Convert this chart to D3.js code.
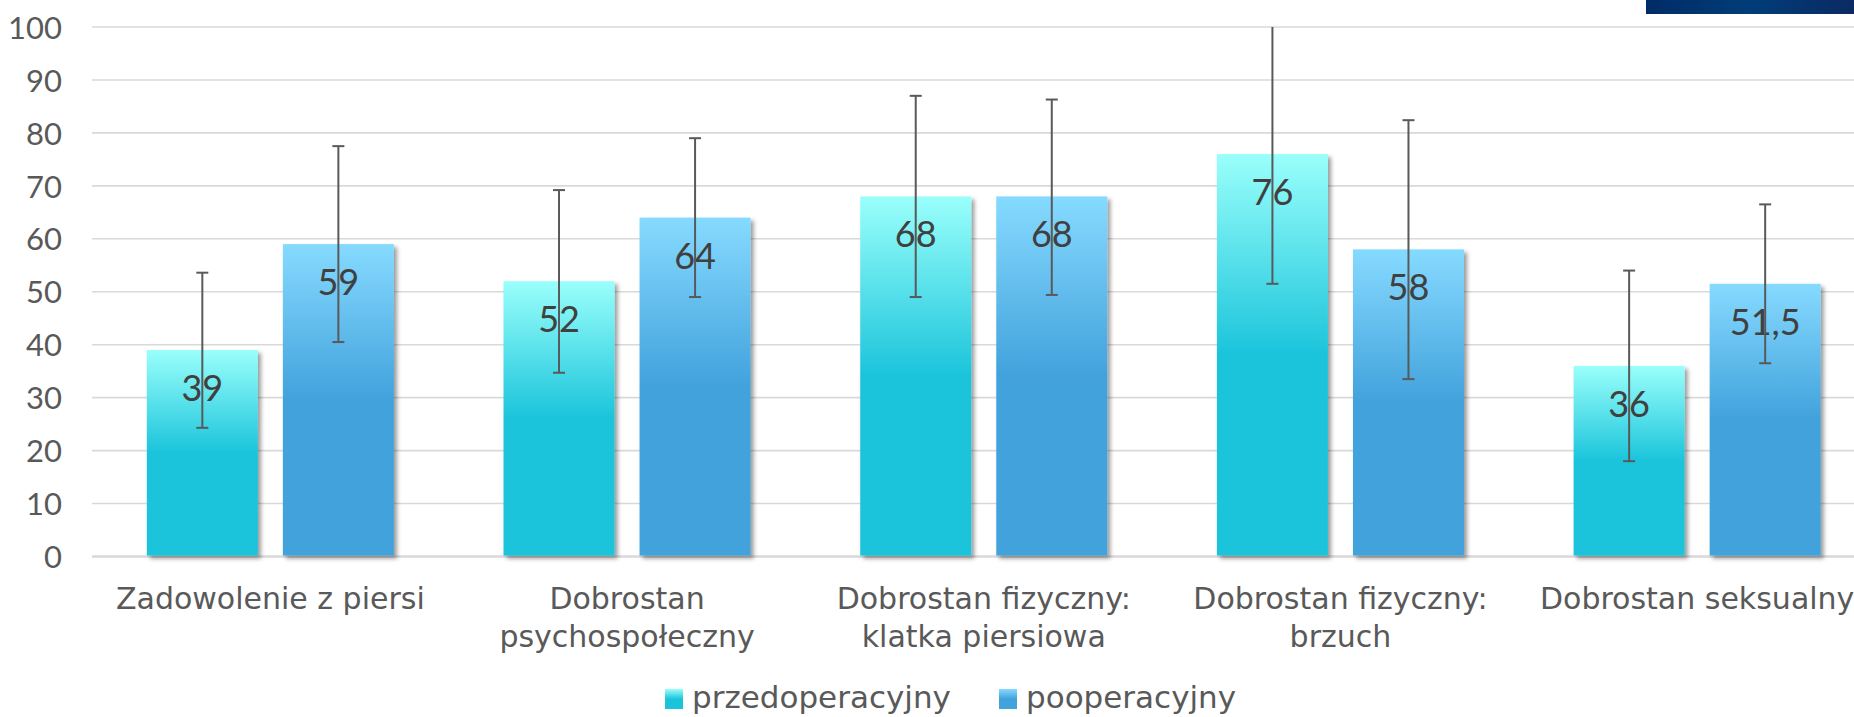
<!DOCTYPE html>
<html>
<head>
<meta charset="utf-8">
<script src="https://cdn.jsdelivr.net/npm/d3@7"></script>
<style>
  html, body { margin: 0; padding: 0; background: #fff; overflow: hidden; }
  svg { display: block; }
  text { font-family: "DejaVu Sans", sans-serif; }
  .num { font-family: "Lato", "DejaVu Sans", sans-serif; }
</style>
</head>
<body>
<svg id="chart" width="1854" height="717"></svg>
<script>
// ---- data ----
const categories = [
  ["Zadowolenie z piersi"],
  ["Dobrostan", "psychospołeczny"],
  ["Dobrostan fizyczny:", "klatka piersiowa"],
  ["Dobrostan fizyczny:", "brzuch"],
  ["Dobrostan seksualny"]
];
const seriesNames = ["przedoperacyjny", "pooperacyjny"];
const preValues  = [39, 52, 68, 76, 36];
const postValues = [59, 64, 68, 58, 51.5];
const preErrLow   = [24.3, 34.7, 49.0, 51.5, 18.0];
const preErrHigh  = [53.6, 69.2, 87.0, 100, 54.0];
const postErrLow  = [40.5, 49.0, 49.4, 33.5, 36.5];
const postErrHigh = [77.5, 79.0, 86.3, 82.4, 66.5];
const yTicks = [0, 10, 20, 30, 40, 50, 60, 70, 80, 90, 100];

// ---- layout ----
const W = 1854, H = 717;
const plotLeft = 92, plotRight = 1875.5, plotTop = 27, plotBottom = 556.5;
const textColor = "#595959";

const svg = d3.select("#chart");
const defs = svg.append("defs");

function grad(id, top, bottom) {
  const g = defs.append("linearGradient").attr("id", id)
    .attr("x1", 0).attr("y1", 0).attr("x2", 0).attr("y2", 1);
  g.append("stop").attr("offset", "0%").attr("stop-color", top);
  g.append("stop").attr("offset", "50%").attr("stop-color", bottom);
  g.append("stop").attr("offset", "100%").attr("stop-color", bottom);
}
grad("g0", "#9afffb", "#1bc4db");
grad("g1", "#86daff", "#42a2dc");

const f = defs.append("filter").attr("id", "shadow")
  .attr("x", "-10%").attr("y", "-10%").attr("width", "130%").attr("height", "130%");
f.append("feDropShadow").attr("dx", 3).attr("dy", 3).attr("stdDeviation", 2.2)
  .attr("flood-color", "#000").attr("flood-opacity", 0.4);

const hg = defs.append("linearGradient").attr("id", "hdr")
  .attr("x1", 0).attr("y1", 0).attr("x2", 1).attr("y2", 0);
hg.append("stop").attr("offset", "0%").attr("stop-color", "#002b66");
hg.append("stop").attr("offset", "50%").attr("stop-color", "#003d78");
hg.append("stop").attr("offset", "100%").attr("stop-color", "#0b2a62");

// scales
const x0 = d3.scaleBand().domain(d3.range(categories.length))
  .range([plotLeft, plotRight]).paddingInner(0).paddingOuter(0);
const x1 = d3.scaleBand().domain([0, 1])
  .range([0, x0.bandwidth()]).paddingInner(0.184).paddingOuter(0.403);
const y = d3.scaleLinear().domain([0, 100]).range([plotBottom, plotTop]);

// header decoration
svg.append("rect").attr("x", 1646).attr("y", 0).attr("width", W - 1646).attr("height", 14)
  .attr("fill", "url(#hdr)");

// gridlines
svg.append("g").selectAll("line").data(yTicks.filter(d => d > 0)).join("line")
  .attr("x1", plotLeft).attr("x2", W)
  .attr("y1", d => y(d)).attr("y2", d => y(d))
  .attr("stroke", "#d9d9d9").attr("stroke-width", 1.6);

// y axis labels
const yAxis = d3.axisLeft(y).tickValues(yTicks).tickSize(0).tickPadding(0);
const yg = svg.append("g").attr("transform", `translate(${plotLeft - 30},0)`).call(yAxis);
yg.select(".domain").remove();
yg.selectAll("text").attr("class", "num").attr("fill", textColor).attr("font-size", 31)
  .attr("dy", "0.36em").attr("x", 0);

// zero axis line
svg.append("line").attr("x1", plotLeft).attr("x2", W)
  .attr("y1", y(0)).attr("y2", y(0))
  .attr("stroke", "#d9d9d9").attr("stroke-width", 2.5);

// bars
const series = [
  {vals: preValues, lo: preErrLow, hi: preErrHigh, fill: "url(#g0)"},
  {vals: postValues, lo: postErrLow, hi: postErrHigh, fill: "url(#g1)"}
];
const locale = d3.formatLocale({decimal: ",", thousands: " ", grouping: [3], currency: ["", ""]});
const fmt = locale.format("~g");

const barData = [];
categories.forEach((c, i) => {
  series.forEach((s, k) => {
    barData.push({i, k, v: s.vals[i], lo: s.lo[i], hi: s.hi[i], fill: s.fill});
  });
});

const bars = svg.append("g");
bars.selectAll("rect").data(barData).join("rect")
  .attr("x", d => x0(d.i) + x1(d.k))
  .attr("y", d => y(d.v))
  .attr("width", x1.bandwidth())
  .attr("height", d => y(0) - y(d.v) - 1)
  .attr("fill", d => d.fill)
  .attr("filter", "url(#shadow)");

// data labels
svg.append("g").selectAll("text").data(barData).join("text")
  .attr("class", "num")
  .attr("x", d => x0(d.i) + x1(d.k) + x1.bandwidth() / 2)
  .attr("y", d => y(d.v) + 51)
  .attr("text-anchor", "middle")
  .attr("font-size", 36)
  .attr("fill", "#404040")
  .text(d => fmt(d.v));

// error bars
const eg = svg.append("g").attr("stroke", "#595959").attr("stroke-width", 2).attr("fill", "none");
barData.forEach(d => {
  const cx = x0(d.i) + x1(d.k) + x1.bandwidth() / 2;
  eg.append("line").attr("x1", cx).attr("x2", cx).attr("y1", y(d.lo)).attr("y2", y(d.hi));
  eg.append("line").attr("x1", cx - 6).attr("x2", cx + 6).attr("y1", y(d.lo)).attr("y2", y(d.lo));
  if (d.hi < 100) {
    eg.append("line").attr("x1", cx - 6).attr("x2", cx + 6).attr("y1", y(d.hi)).attr("y2", y(d.hi));
  }
});

// x labels
const xl = svg.append("g");
categories.forEach((lines, i) => {
  const t = xl.append("text")
    .attr("x", x0(i) + x0.bandwidth() / 2)
    .attr("y", 609)
    .attr("text-anchor", "middle")
    .attr("font-size", 30)
    .attr("fill", textColor);
  lines.forEach((ln, j) => {
    t.append("tspan").attr("x", x0(i) + x0.bandwidth() / 2)
      .attr("dy", j === 0 ? 0 : 37.5).text(ln);
  });
});

// legend
const legendItems = [
  {name: seriesNames[0], fill: "url(#g0)", x: 665},
  {name: seriesNames[1], fill: "url(#g1)", x: 999}
];
const lg = svg.append("g");
legendItems.forEach(it => {
  lg.append("rect").attr("x", it.x).attr("y", 689).attr("width", 18).attr("height", 20)
    .attr("fill", it.fill);
  lg.append("text").attr("x", it.x + 27).attr("y", 707.5)
    .attr("font-size", 31).attr("fill", textColor).text(it.name);
});
</script>
</body>
</html>
